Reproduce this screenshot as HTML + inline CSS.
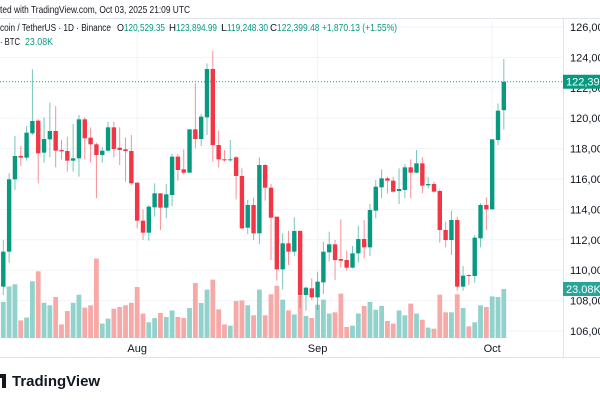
<!DOCTYPE html>
<html><head><meta charset="utf-8">
<style>
body{margin:0;width:600px;height:400px;background:#fff;overflow:hidden;font-family:"Liberation Sans",sans-serif;}
svg{position:absolute;left:0;top:0}
</style></head>
<body>
<svg id="c" width="600" height="400"></svg>
<script>
const opens=[108917,111219,115978,117513,117404,119005,119838,117733,118610,119158,117908,117842,117206,117360,119926,118720,118281,117579,117864,119399,118062,117952,117842,115759,113259,112469,114136,115057,114114,114948,117470,116636,116417,119268,118632,120057,123237,118237,117294,117250,117426,116198,112798,114290,112426,116921,115430,113522,110057,111768,111219,112579,108369,108807,108215,109202,111176,111702,110737,110671,110167,111110,112053,111504,113917,115452,116044,115891,115211,115277,116768,116417,117031,115583,115671,115211,112645,111987,113303,108917,109684,109619,112097,114290,114004,118566,120529];
const highs=[111987,116373,118829,118171,119487,123215,119926,120057,121022,120803,118566,118785,119619,120211,120057,119399,118391,118084,119772,119772,119399,118741,118895,115759,114004,114290,115715,115057,115671,117645,117645,117952,119268,122294,120277,123610,124443,119180,117908,118566,117513,116702,114619,114794,117426,116987,115671,113522,112426,112601,113478,112645,108917,109465,109903,111878,112536,111987,113347,111285,111592,112930,113303,114355,115934,116636,116154,116154,116702,116987,117294,117908,117426,116110,115825,115320,113193,113917,113522,110277,109728,112316,114399,114794,118610,120978,123895];
const lows=[108369,110496,115277,116856,117206,118895,115715,117075,117426,116768,117294,116483,116483,116154,117294,117075,114728,117075,117798,117426,116921,115825,115605,112755,111987,111943,113522,112645,113413,114224,115891,116307,116417,118018,118171,118895,117141,116768,117141,117141,114663,112689,112382,111987,111724,114575,110671,109311,108741,110342,110934,107492,107338,108040,107382,108434,110561,109355,110189,109970,110123,110496,110781,110934,113413,114728,115057,115101,114355,114728,114728,116373,115057,115386,115101,111812,111504,110999,108654,108654,109027,109180,111504,112645,114004,118237,119248];
const closes=[111219,115978,117513,117404,119048,119816,117689,118632,119158,117864,117820,117206,117360,119926,118676,118281,117579,117864,119399,117974,117908,117842,115715,113259,112469,114180,115057,114114,114991,117470,116592,116417,119268,118632,120101,123237,118237,117294,117250,117294,116198,112755,114290,112426,116921,115430,113456,110057,111768,111219,112579,108369,108851,108215,109246,111219,111702,110671,110627,110167,111110,112053,111504,113961,115496,116044,115891,115167,115342,116768,116417,117031,115561,115671,115167,112645,111987,113303,108917,109640,109619,112141,114290,114004,118610,120496,122399];
const volumes=[17.0,24.3,25.3,8.3,9.6,26.7,31.4,16.6,15.4,19.3,6.4,12.7,16.6,20.4,14.3,15.4,37.4,6.8,9.1,13.8,14.6,15.4,16.6,24.0,11.5,7.4,9.4,11.8,9.9,13.0,9.9,9.4,14.1,25.9,16.5,22.8,27.5,13.5,6.4,5.8,17.4,17.7,15.4,10.7,22.8,10.7,20.6,24.6,18.1,13.0,11.1,20.1,10.4,9.4,15.7,18.1,11.5,12.1,20.9,5.2,5.8,11.5,15.1,17.0,13.3,15.1,8.0,6.8,13.0,10.7,16.2,11.5,8.6,4.9,4.4,20.4,12.1,12.1,20.6,14.1,5.5,7.4,15.4,14.6,19.6,19.3,23.08];
const priceTicks=[126000,124000,122000,120000,118000,116000,114000,112000,110000,108000,106000];
const monthLabels=["Aug","Sep","Oct"];
const monthIdx=[23,54,84];

const NS="http://www.w3.org/2000/svg";
const svg=document.getElementById('c');
function el(t,a,p){const e=document.createElementNS(NS,t);for(const k in a)e.setAttribute(k,a[k]);(p||svg).appendChild(e);return e;}
function txt(s,x,y,len,fill,size){const e=el('text',{x:x,y:y,'font-size':size||10.5,fill:fill||'#131722'});if(len){e.setAttribute('textLength',len);e.setAttribute('lengthAdjust','spacingAndGlyphs');}e.textContent=s;return e;}
const yP=v=>27+(126000-v)*0.01520;
const xI=i=>3.3+i*5.82;
const yV=v=>338-v*(49/23.08);
const GREEN="#089981",RED="#f23645";

// header
let t=txt("ted with TradingView.com, Oct 03, 2025 21:09 UTC",0,13,190);


el('line',{x1:0,y1:18.5,x2:600,y2:18.5,stroke:'#e0e3eb'});
el('line',{x1:563.5,y1:18,x2:563.5,y2:357,stroke:'#e0e3eb'});
el('line',{x1:0,y1:357.5,x2:600,y2:357.5,stroke:'#e0e3eb'});

// grid
const g=el('g',{});
priceTicks.forEach(v=>{el('line',{x1:0,y1:yP(v),x2:563,y2:yP(v),stroke:'#f0f3fa'},g);
 const l=txt(v.toLocaleString('en-US'),570,yP(v)+4,null,'#131722',11);
 
 });
monthIdx.forEach((m,k)=>{el('line',{x1:xI(m),y1:18,x2:xI(m),y2:340,stroke:'#f0f3fa'},g);
 const l=el('text',{x:xI(m),y:352,'font-size':11,fill:'#131722','text-anchor':'middle'});l.textContent=monthLabels[k];
 
 });

// volume
volumes.forEach((v,i)=>{const up=closes[i]>=opens[i];
 const r=el('rect',{x:xI(i)-2.4,y:yV(v),width:4.8,height:338-yV(v),fill:up?'#92d2cc':'#f7a9a7'});
 
 });

// candles
opens.forEach((o,i)=>{const c=closes[i],up=c>=o,col=up?GREEN:RED;const x=xI(i);
 const w=el('line',{x1:x,y1:yP(highs[i]),x2:x,y2:yP(lows[i]),stroke:col,'stroke-width':1,opacity:0.55});
 
 
 const top=yP(Math.max(o,c)),h=Math.max(1,yP(Math.min(o,c))-top);
 const b=el('rect',{x:x-2.2,y:top,width:4.4,height:h,fill:col});
 
 });

// last price line
const lp=closes[closes.length-1];
el('line',{x1:0,y1:yP(lp),x2:563,y2:yP(lp),stroke:GREEN,'stroke-dasharray':'1,2'});
el('rect',{x:563,y:yP(lp)-7,width:37,height:14,fill:GREEN});
t=txt(lp.toLocaleString('en-US'),566,yP(lp)+4,null,'#fff',11);


const lv=volumes[volumes.length-1];
el('rect',{x:563,y:yV(lv)-7,width:37,height:14,fill:'#26a69a'});
t=txt(lv.toFixed(2)+"K",566,yV(lv)+4,null,'#fff',11);



// legend
const lg=el('g',{});


[["coin / TetherUS · 1D · Binance",0,111,'#131722'],["O",117,7,'#131722'],["120,529.35",124,41,GREEN],
 ["H",169,7,'#131722'],["123,894.99",176,41,GREEN],["L",221,6,'#131722'],["119,248.30",227,41,GREEN],
 ["C",270,7,'#131722'],["122,399.48 +1,870.13 (+1.55%)",277,120,GREEN]].forEach(a=>lg.appendChild(txt(a[0],a[1],31,a[2],a[3])));
const vg=el('g',{});


vg.appendChild(txt("· BTC",0,45,20));
vg.appendChild(txt("23.08K",25,45,28,GREEN));

// footer
el('path',{d:'M-4 374 h10 v14 h-4 v-10 h-6 z',fill:'#131722'});
t=el('text',{x:12,y:386,'font-size':15,'font-weight':'bold',fill:'#131722'});t.textContent="TradingView";


</script>
</body></html>
